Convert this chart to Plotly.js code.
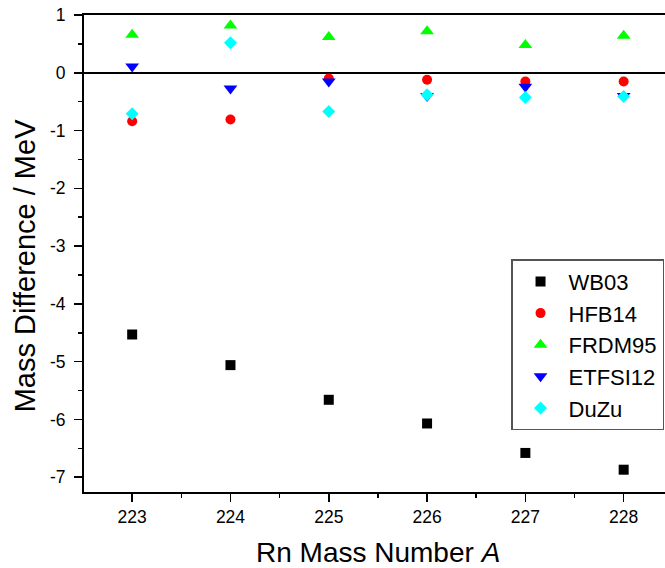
<!DOCTYPE html>
<html>
<head>
<meta charset="utf-8">
<script src="https://cdn.plot.ly/plotly-3.0.1.min.js"></script>
<style>html,body{margin:0;padding:0;background:#fff;overflow:hidden;width:665px;height:568px}#chart{width:680px;height:568px}</style>
</head>
<body>
<div id="chart"></div>
<script>
// Rn mass numbers
const massNumbers = [223, 224, 225, 226, 227, 228];
// Mass differences (MeV) for each model
const wb03    = [-4.53, -5.06, -5.66, -6.07, -6.58, -6.87];
const hfb14   = [-0.84, -0.81, -0.10, -0.12, -0.15, -0.15];
const frdm95  = [0.66, 0.82, 0.62, 0.72, 0.48, 0.64];
const etfsi12 = [0.11, -0.27, -0.15, -0.40, -0.24, -0.40];
const duzu    = [-0.71, 0.52, -0.67, -0.38, -0.43, -0.41];
const seriesNames = ["WB03", "HFB14", "FRDM95", "ETFSI12", "DuZu"];
const xTickVals = [223, 224, 225, 226, 227, 228];
const xTickText = ["223", "224", "225", "226", "227", "228"];
const yTickVals = [-7, -6, -5, -4, -3, -2, -1, 0, 1];
const yTickText = ["-7", "-6", "-5", "-4", "-3", "-2", "-1", "0", "1"];
const xTitle = "Rn Mass Number <i>A</i>";
const yTitle = "Mass Difference / MeV";

const FONT = "Liberation Sans, Arial, sans-serif";
function tr(name, y, symbol, color, size) {
  return {x: massNumbers, y: y, name: name, type: "scatter", mode: "markers",
    marker: {symbol: symbol, color: color, size: size, line: {width: 0}}};
}
const data = [
  tr(seriesNames[0], wb03, "square", "#000000", 10),
  tr(seriesNames[1], hfb14, "circle", "#ff0000", 10),
  tr(seriesNames[2], frdm95, "triangle-up", "#00ff00", 12),
  tr(seriesNames[3], etfsi12, "triangle-down", "#0000ff", 12),
  tr(seriesNames[4], duzu, "diamond", "#00ffff", 10)
];
// plot area: 84 .. 680 px horizontally, 15 .. 492 vertically
const layout = {
  width: 680, height: 568,
  margin: {l: 84, r: 0, t: 15, b: 76},
  paper_bgcolor: "#fff", plot_bgcolor: "#fff",
  font: {family: FONT, color: "#000", size: 17},
  showlegend: true,
  legend: {x: 0.7165, y: 0.488, xanchor: "left", yanchor: "top",
    bgcolor: "#fff", bordercolor: "#555", borderwidth: 1.5, itemwidth: 46,
    font: {family: FONT, size: 22, color: "#000"}},
  xaxis: {range: [222.51, 228.573], tickmode: "array", tickvals: xTickVals, ticktext: xTickText,
    ticks: "outside", ticklen: 8, tickwidth: 1.5, tickcolor: "#000",
    minor: {dtick: 0.5, tick0: 222.5, ticks: "outside", ticklen: 4, tickwidth: 1.5, tickcolor: "#000", showgrid: false},
    showline: true, linewidth: 2, linecolor: "#000", mirror: true,
    showgrid: false, zeroline: false,
    tickfont: {family: FONT, size: 17.5}},
  yaxis: {range: [-7.256, 1], tickmode: "array", tickvals: yTickVals, ticktext: yTickText,
    ticks: "outside", ticklen: 8, tickwidth: 1.5, tickcolor: "#000", ticklabelstandoff: 5,
    minor: {dtick: 0.5, tick0: -7, ticks: "outside", ticklen: 4, tickwidth: 1.5, tickcolor: "#000", showgrid: false},
    showline: true, linewidth: 2, linecolor: "#000", mirror: false,
    showgrid: false, zeroline: true, zerolinecolor: "#000", zerolinewidth: 1.5,
    tickfont: {family: FONT, size: 17.5}},
  annotations: [
    {text: xTitle, xref: "paper", yref: "paper", x: (378 - 84) / 596, y: -(552 - 491.7) / 477,
     xanchor: "center", yanchor: "middle", showarrow: false, font: {family: FONT, size: 28, color: "#000"}},
    {text: yTitle, xref: "paper", yref: "paper", x: (25 - 84) / 596, y: (491.7 - 266) / 477,
     xanchor: "center", yanchor: "middle", textangle: -90, showarrow: false, font: {family: FONT, size: 29, color: "#000"}}
  ]
};
Plotly.newPlot("chart", data, layout, {displayModeBar: false, staticPlot: true});
</script>
</body>
</html>
